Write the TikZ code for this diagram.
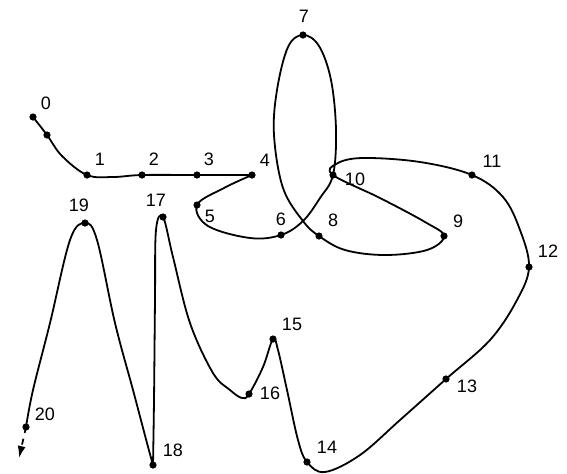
\documentclass[tikz,border=0pt]{standalone}
\usepackage{fontspec}
\setmainfont{Liberation Sans}
\usetikzlibrary{arrows.meta}

\begin{document}
\begin{tikzpicture}[x=0.5pt,y=-0.5pt,>={Latex[length=6pt,width=4pt]},font=\fontsize{9}{10}\selectfont,line width=0.9pt]
  \useasboundingbox (0,0) rectangle (567,473);
  % numbered points: number / point / label
  \foreach \n/\x/\y/\lx/\ly in {0/33/117/46/103, 1/87/175/100/159, 2/142/175/154/159,
                                3/197/175/209/159, 4/252/175/265/160, 5/197/205/210/216,
                                6/281/235/281/219, 7/303/35/304/16, 8/319/236/333/220,
                                9/444/236/458/221, 10/333/175/355/179, 11/472/175/492/161,
                                12/529/267/548/251, 13/446/379/467/386, 14/307/462/327/447,
                                15/273/339/292/324, 16/249/394/270/393, 17/163/217/156/200,
                                18/153/465/173/450, 19/85/223/79/205, 20/26/427/45/414} {
     \coordinate (p\n) at (\x,\y);
     \node[inner sep=0pt] (l\n) at (\lx,\ly) {\n};}
  \coordinate (q0) at (47,135);
  \coordinate (tip) at (19,458);
  \draw plot[smooth,tension=0.6] coordinates {(p0) (q0) (62,156) (p1) (113,177) (p2) (p3) (p4)};
  \draw plot[smooth,tension=0.6] coordinates {(p4) (224,188) (p5) (208,226) (250,238) (p6)
      (303,221) (320,198) (p10) (336,130) (331,80) (319,46) (p7) (288,47) (277,90) (274,135)
      (283,188) (303,221) (p8) (345,250) (385,255) (427,250) (p9) (425,222) (380,198) (p10)
      (336,164) (362,158) (420,162) (p11) (503,197) (520,230) (p12) (517,300) (490,340) (p13)
      (400,420) (360,455) (325,472) (p14) (298,440) (287,390) (278,350) (p15) (263,367) (p16)
      (242,398) (230,390) (213,373) (190,323) (173,257) (p17) (156,230) (155,300) (154,400) (p18)};
  \draw plot[smooth,tension=0.6] coordinates {(p18) (147,443) (133,390) (115,323) (97,240) (p19)
      (70,240) (50,323) (33,390) (p20)};
  \draw[dashed,->] (p20) -- (tip);
  \foreach \n in {0,...,20} \fill (p\n) circle (1.8pt);
  \fill (q0) circle (1.8pt);
\end{tikzpicture}
\end{document}
